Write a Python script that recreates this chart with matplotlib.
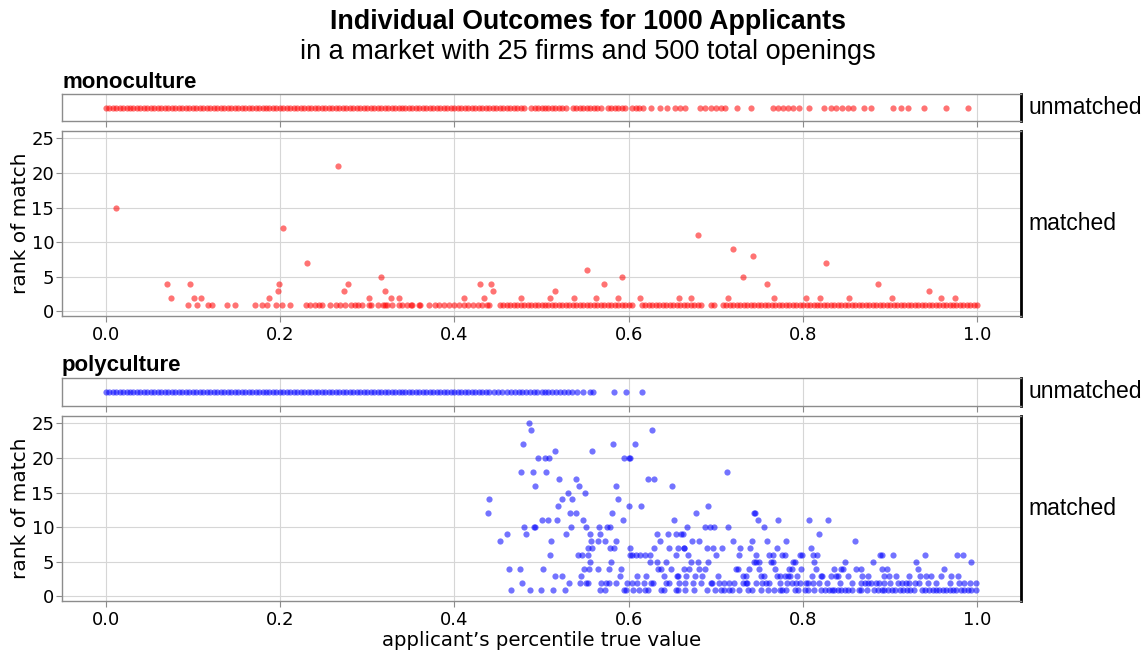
import matplotlib.pyplot as plt

# applicant percentile true value, in thousandths
mono_unmatched = [
    0, 4, 8, 12, 16, 20, 24, 28, 32, 36, 40, 44, 48, 52, 56, 60, 64, 68, 72, 76,
    80, 84, 88, 92, 96, 100, 104, 108, 112, 116, 120, 124, 128, 132, 136, 140, 144, 148, 152, 156,
    160, 164, 168, 172, 176, 180, 184, 188, 192, 196, 200, 204, 208, 212, 216, 220, 224, 228, 232, 236,
    240, 244, 248, 252, 256, 260, 264, 268, 272, 276, 280, 284, 288, 292, 296, 300, 304, 308, 312, 316,
    320, 324, 328, 332, 336, 340, 344, 348, 352, 356, 360, 364, 368, 372, 376, 380, 384, 388, 392, 396,
    400, 404, 408, 412, 416, 420, 424, 428, 432, 436, 440, 444, 448, 452, 456, 460, 464, 468, 472, 476,
    480, 488, 492, 496, 500, 504, 508, 512, 516, 520, 524, 528, 536, 540, 544, 548, 552, 556, 560, 564,
    568, 576, 580, 584, 588, 592, 596, 604, 608, 612, 616, 626, 636, 644, 653, 659, 665, 682, 688, 694,
    700, 706, 711, 724, 740, 765, 771, 777, 783, 789, 795, 807, 824, 832, 838, 845, 851, 857, 870, 878,
    903, 912, 920, 939, 964, 989]

# rank of match -> percentiles of the applicants matched at that rank
mono_matched = {
    1: [95, 105, 117, 122, 139, 149, 171, 179, 185, 195, 202, 211, 230, 234, 240, 245, 248, 257, 264, 269,
        275, 281, 286, 289, 294, 302, 304, 312, 318, 321, 323, 328, 337, 340, 346, 350, 352, 359, 361, 371,
        378, 382, 388, 394, 400, 405, 411, 416, 421, 427, 432, 437, 440,
        452, 456, 460, 464, 468, 472, 476, 480, 484, 488, 492, 496, 500, 504, 508, 512, 516, 520, 524, 528,
        532, 536, 540, 544, 548, 552, 556, 560, 564, 568, 572, 576, 580, 584, 588, 592, 596, 600, 604, 615,
        619, 623, 627, 631, 635, 639, 643, 647, 651, 655, 659, 663, 667, 671, 675, 679, 683, 694, 698, 708,
        712, 716, 720, 724, 728, 732, 736, 740, 744, 748, 752, 756, 760, 764, 768, 772, 776, 780, 784, 788,
        792, 796, 800, 804, 808, 812, 816, 820, 824, 828, 832, 836, 840, 844, 848, 852, 856, 860, 864, 868,
        872, 876, 880, 884, 888, 892, 896, 900, 904, 908, 912, 916, 920, 924, 928, 932, 936, 940, 944, 948,
        952, 956, 960, 964, 968, 972, 976, 980, 984, 988, 992, 996, 999],
    2: [75, 101, 110, 188, 302, 327, 336, 411, 434, 477, 510, 537, 563, 588, 613, 658, 672, 714, 767, 803,
        819, 853, 902, 958, 974],
    3: [198, 274, 321, 444, 515, 945],
    4: [70, 97, 199, 278, 429, 442, 572, 759, 886],
    5: [316, 592, 731],
    6: [552],
    7: [231, 826],
    8: [743],
    9: [720],
    11: [680],
    12: [203],
    15: [12],
    21: [267],
}

poly_unmatched = [
    0, 4, 8, 12, 16, 20, 24, 28, 32, 36, 40, 44, 48, 52, 56, 60, 64, 68, 72, 76,
    80, 84, 88, 92, 96, 100, 104, 108, 112, 116, 120, 124, 128, 132, 136, 140, 144, 148, 152, 156,
    160, 164, 168, 172, 176, 180, 184, 188, 192, 196, 200, 204, 208, 212, 216, 220, 224, 228, 232, 236,
    240, 244, 248, 252, 256, 260, 264, 268, 272, 276, 280, 284, 288, 292, 296, 300, 304, 308, 312, 316,
    320, 324, 328, 332, 336, 340, 344, 348, 352, 356, 360, 364, 368, 372, 376, 380, 384, 388, 392, 396,
    400, 404, 408, 412, 416, 420, 424, 428, 432, 436, 440, 445, 450, 455, 460, 465, 470, 474, 478, 482,
    487, 491, 495, 500, 504, 508, 512, 517, 521, 526, 530, 535, 541, 548, 556, 559, 583, 597, 615]

poly_matched = {
    1: [465, 487, 499, 513, 527, 567, 573, 595, 597, 605, 612, 619, 622, 637, 640, 654, 656, 665, 675, 690,
        699, 706, 709, 715, 718, 726, 737, 742, 752, 760, 767, 774, 776, 781, 791, 794, 802, 806, 813, 821,
        825, 830, 833, 836, 840, 844, 848, 852, 856, 864, 867, 873, 881, 886, 890, 893, 898, 902, 906, 911,
        915, 919, 923, 927, 936, 940, 944, 949, 953, 956, 960, 964, 968, 972, 976, 981, 985, 989, 993, 998],
    2: [478, 531, 544, 551, 553, 568, 574, 577, 586, 598, 604, 610, 617, 626, 628, 643, 646, 658, 665, 674,
        683, 694, 696, 704, 709, 715, 721, 731, 734, 736, 746, 753, 758, 761, 773, 782, 787, 792, 797, 803,
        806, 811, 818, 827, 842, 856, 866, 871, 874, 878, 884, 887, 893, 900, 909, 914, 918, 922, 928, 933,
        943, 952, 969, 979, 985, 991, 998],
    3: [515, 523, 545, 590, 609, 620, 640, 655, 657, 666, 676, 684, 702, 731, 734, 752, 755, 770, 773, 779,
        783, 785, 793, 810, 821, 822, 832, 838, 840, 851, 868, 875, 893, 899, 907, 921, 934, 941, 947, 958,
        970, 978],
    4: [463, 475, 502, 549, 555, 565, 577, 591, 634, 637, 649, 664, 669, 681, 687, 723, 725, 738, 749, 768,
        784, 787, 798, 815, 836, 844, 846, 861, 866, 890, 896, 932, 962],
    5: [556, 580, 624, 632, 643, 672, 680, 691, 744, 746, 750, 763, 766, 789, 791, 813, 848, 880, 930, 993],
    6: [510, 542, 547, 553, 602, 604, 608, 613, 619, 624, 654, 668, 700, 727, 746, 761, 765, 776, 779, 797,
        799, 811, 816, 888, 891, 903, 940, 977, 983],
    7: [553, 558, 578, 583, 602, 629, 646, 656, 663, 664, 690, 697, 707, 728, 739, 770, 809],
    8: [452, 511, 557, 565, 573, 586, 636, 673, 681, 720, 741, 759, 780, 860],
    9: [460, 482, 528, 556, 567, 632, 645, 654, 660, 662, 818],
    10: [480, 491, 493, 534, 551, 566, 575, 578, 667, 688, 693, 698, 714, 755],
    11: [501, 508, 518, 548, 593, 652, 748, 771, 807, 829],
    12: [439, 533, 539, 581, 677, 744, 745],
    13: [519, 600, 614, 691],
    14: [440, 524, 535, 588],
    15: [530, 550],
    16: [493, 543, 585, 650],
    17: [520, 540, 622, 629],
    18: [477, 490, 505, 713],
    20: [496, 504, 509, 595, 600, 602],
    21: [515, 558],
    22: [479, 582, 607],
    24: [488, 627],
    25: [486],
}


def flatten(by_rank):
    xs, ys = [], []
    for rank, vals in by_rank.items():
        xs += [v / 1000 for v in vals]
        ys += [rank] * len(vals)
    return xs, ys


FW, FH = 1146, 652
fig = plt.figure(figsize=(FW / 100, FH / 100), dpi=100)

LEFT, RIGHT = 62, 1021
SPINE = '#8c8c8c'
GRID = '#d6d6d6'
HEAD = 'Liberation Sans'
DOT = 20
ALPHA = 0.55


def box(top, bottom):
    return [LEFT / FW, 1 - bottom / FH, (RIGHT - LEFT) / FW, (bottom - top) / FH]


def style(ax):
    ax.set_xlim(-0.05, 1.05)
    ax.set_xticks([0, 0.2, 0.4, 0.6, 0.8, 1.0])
    ax.set_axisbelow(True)
    for s in ['left', 'top', 'bottom']:
        ax.spines[s].set_color(SPINE)
        ax.spines[s].set_linewidth(1)
    ax.spines['right'].set_color('black')
    ax.spines['right'].set_linewidth(2)
    ax.tick_params(colors=SPINE, labelcolor='black', labelsize=13, length=4, width=0.8)
    ax.tick_params(axis='y', pad=1.5)


panels = [
    ('monoculture', 'red', mono_unmatched, mono_matched, 82, (94, 121), (131, 316)),
    ('polyculture', 'blue', poly_unmatched, poly_matched, 365, (378, 406), (416, 601)),
]

for name, color, unmatched, matched, head_y, strip, main in panels:
    fig.text(LEFT / FW, 1 - head_y / FH, name, fontsize=16, fontweight='bold',
             family=HEAD, ha='left', va='center')

    ax_u = fig.add_axes(box(*strip))
    ax_u.scatter([v / 1000 for v in unmatched], [0] * len(unmatched), s=DOT,
                 color=color, alpha=ALPHA, linewidths=0)
    style(ax_u)
    ax_u.set_ylim(-1, 1)
    ax_u.set_yticks([])
    ax_u.set_xticklabels([])
    ax_u.grid(axis='x', color=GRID, linewidth=0.8)

    ax_m = fig.add_axes(box(*main))
    xs, ys = flatten(matched)
    ax_m.scatter(xs, ys, s=DOT, color=color, alpha=ALPHA, linewidths=0)
    style(ax_m)
    ax_m.set_ylim(-0.65, 26.05)
    ax_m.set_yticks([0, 5, 10, 15, 20, 25])
    ax_m.set_xticklabels(['0.0', '0.2', '0.4', '0.6', '0.8', '1.0'])
    ax_m.grid(color=GRID, linewidth=0.8)
    ax_m.set_ylabel('rank of match', fontsize=14.5, labelpad=1)

    fig.text(1028 / FW, 1 - (strip[0] + strip[1]) / 2 / FH, 'unmatched', fontsize=16.5,
             family=HEAD, ha='left', va='center')
    fig.text(1028 / FW, 1 - (main[0] + main[1]) / 2 / FH, 'matched', fontsize=16.5,
             family=HEAD, ha='left', va='center')

fig.text((LEFT + RIGHT) / 2 / FW, 1 - 640 / FH, 'applicant\u2019s percentile true value',
         fontsize=14.2, ha='center', va='center')

fig.text(0.513, 1 - 22 / FH, 'Individual Outcomes for 1000 Applicants', fontsize=19.3,
         fontweight='bold', family=HEAD, ha='center', va='center')
fig.text(0.513, 1 - 52 / FH, 'in a market with 25 firms and 500 total openings', fontsize=19.5,
         family=HEAD, ha='center', va='center')

fig.savefig('out.png', dpi=100)
